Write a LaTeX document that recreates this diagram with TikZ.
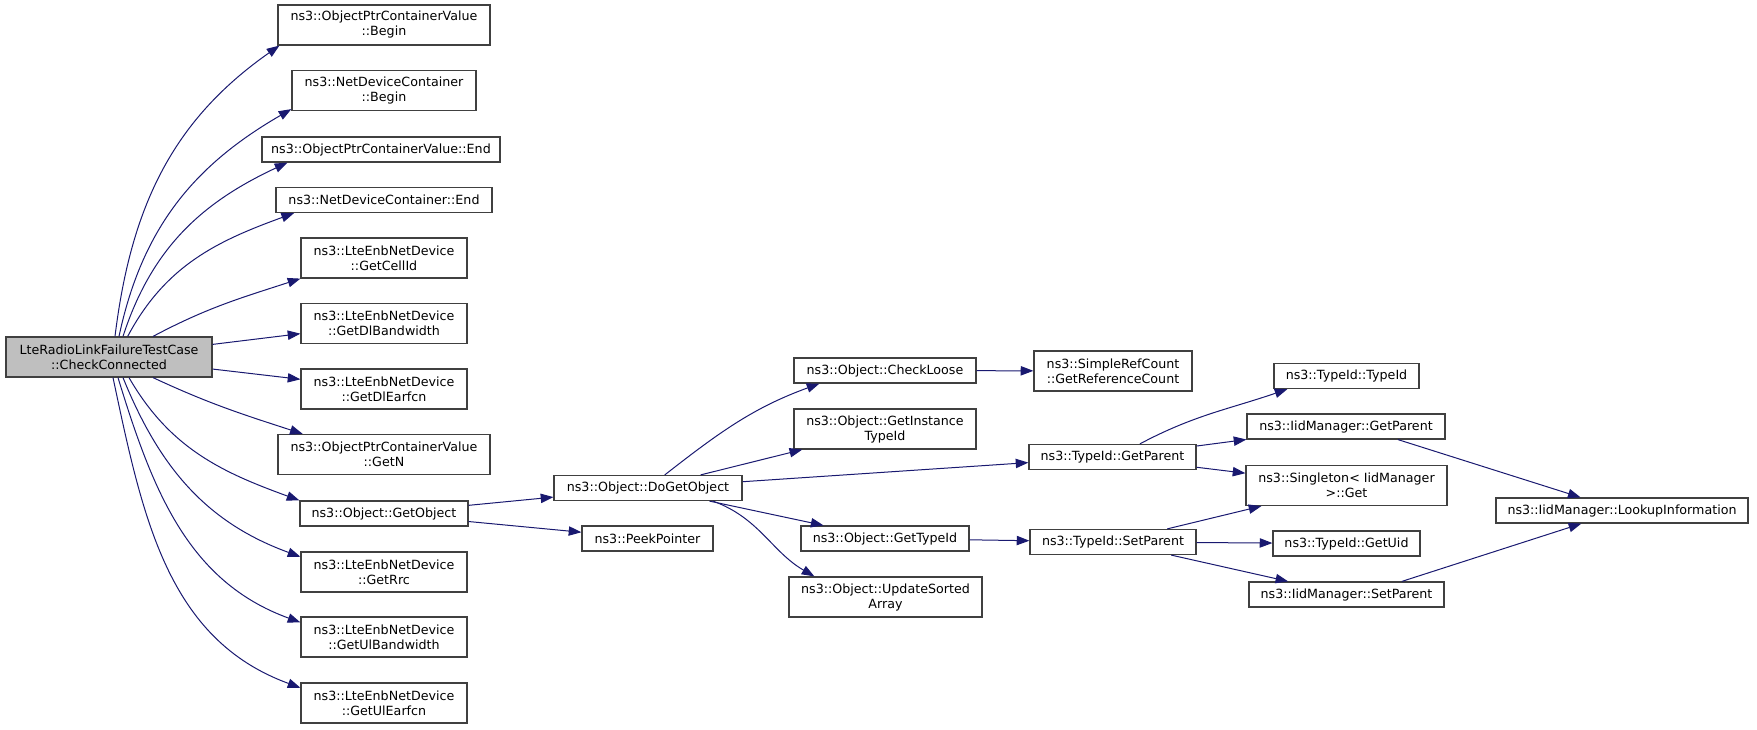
\documentclass[tikz,border=0pt]{standalone}
\usepackage{fontspec}
\setmainfont{DejaVu Sans}
\usetikzlibrary{arrows.meta}
\definecolor{edgeblue}{HTML}{191970}
\definecolor{boxline}{HTML}{404040}
\definecolor{boxfill}{HTML}{BFBFBF}
\begin{document}
\begin{tikzpicture}[x=0.75pt, y=-0.75pt,
            fn/.style = {draw=boxline, line width=0.9pt, align=center, inner sep=0pt,
                         font=\fontsize{9.5}{11.25}\selectfont, minimum height=30pt},
            fnone/.style = {fn, minimum height=18.75pt},
            call/.style = {edgeblue, line width=0.75pt, -{Triangle[length=9.5pt,width=7pt]}}]
            \useasboundingbox (0,0) rectangle (1757,729);

            \node[fn, fill=boxfill, minimum width=154.5pt] (main) at (109,357) {LteRadioLinkFailureTestCase\\::CheckConnected};

            \node[fn,    minimum width=159pt]   (b1)  at (384,25)    {ns3::ObjectPtrContainerValue\\::Begin};
            \node[fn,    minimum width=138pt]   (b2)  at (384,90.5)  {ns3::NetDeviceContainer\\::Begin};
            \node[fnone, minimum width=178.5pt] (b3)  at (381,149.5) {ns3::ObjectPtrContainerValue::End};
            \node[fnone, minimum width=162pt]   (b4)  at (384,200)   {ns3::NetDeviceContainer::End};
            \node[fn,    minimum width=124.5pt] (b5)  at (384,258)   {ns3::LteEnbNetDevice\\::GetCellId};
            \node[fn,    minimum width=124.5pt] (b6)  at (384,323.5) {ns3::LteEnbNetDevice\\::GetDlBandwidth};
            \node[fn,    minimum width=124.5pt] (b7)  at (384,389)   {ns3::LteEnbNetDevice\\::GetDlEarfcn};
            \node[fn,    minimum width=159pt]   (b8)  at (384,454.5) {ns3::ObjectPtrContainerValue\\::GetN};
            \node[fnone, minimum width=126pt]   (b9)  at (384,513.5) {ns3::Object::GetObject};
            \node[fn,    minimum width=124.5pt] (b10) at (384,572)   {ns3::LteEnbNetDevice\\::GetRrc};
            \node[fn,    minimum width=124.5pt] (b11) at (384,637)   {ns3::LteEnbNetDevice\\::GetUlBandwidth};
            \node[fn,    minimum width=124.5pt] (b12) at (384,703)   {ns3::LteEnbNetDevice\\::GetUlEarfcn};

            \node[fnone, minimum width=141pt]    (dgo)  at (648,488)     {ns3::Object::DoGetObject};
            \node[fnone, minimum width=98.25pt]  (peek) at (647.5,538.5) {ns3::PeekPointer};

            \node[fnone, minimum width=136.5pt]  (chk)  at (885,370.5)   {ns3::Object::CheckLoose};
            \node[fn,    minimum width=136.5pt]  (git)  at (885,429)     {ns3::Object::GetInstance\\TypeId};
            \node[fnone, minimum width=126pt]    (gtid) at (885,538.5)   {ns3::Object::GetTypeId};
            \node[fn,    minimum width=144.75pt] (usa)  at (885.5,597)   {ns3::Object::UpdateSorted\\Array};

            \node[fn,    minimum width=118.5pt]  (grc)  at (1113,371)    {ns3::SimpleRefCount\\::GetReferenceCount};
            \node[fnone, minimum width=125.25pt] (tgp)  at (1112.5,457)  {ns3::TypeId::GetParent};
            \node[fnone, minimum width=124.5pt]  (tsp)  at (1113,542)    {ns3::TypeId::SetParent};

            \node[fnone, minimum width=108.75pt] (ttid) at (1346.5,376)  {ns3::TypeId::TypeId};
            \node[fnone, minimum width=148.5pt]  (igp)  at (1346,426.5)  {ns3::IidManager::GetParent};
            \node[fn,    minimum width=150.75pt] (sg)   at (1346.5,485.5) {ns3::Singleton< IidManager\\ >::Get};
            \node[fnone, minimum width=110.25pt] (gui)  at (1346.5,543.5) {ns3::TypeId::GetUid};
            \node[fnone, minimum width=146.25pt] (isp)  at (1346.5,594.5) {ns3::IidManager::SetParent};

            \node[fnone, minimum width=189pt]    (lk)   at (1622,510.5)  {ns3::IidManager::LookupInformation};

            \draw[call] ([xshift=4.5pt]main.north)  to[out=83,in=215] ([xshift=1.5pt]b1.south west);
            \draw[call] ([xshift=7.5pt]main.north)  to[out=78,in=210] ([yshift=1.5pt]b2.south west);
            \draw[call] ([xshift=10.5pt]main.north) to[out=72,in=205] ([xshift=19.5pt]b3.south west);
            \draw[call] ([xshift=14pt]main.north)   to[out=62,in=200] ([xshift=14pt]b4.south west);
            \draw[call] ([xshift=33pt]main.north)   to[out=28,in=198] (b5.south west);
            \draw[call] (main) -- (b6);
            \draw[call] (main) -- (b7);
            \draw[call] ([xshift=33pt]main.south)   to[out=-25,in=162] ([xshift=19pt]b8.north west);
            \draw[call] ([xshift=15pt]main.south)   to[out=-60,in=160] (b9.north west);
            \draw[call] ([xshift=10.5pt]main.south) to[out=-68,in=160] ([yshift=-4pt]b10.north west);
            \draw[call] ([xshift=6.75pt]main.south) to[out=-73,in=160] ([yshift=-4.5pt]b11.north west);
            \draw[call] ([xshift=3pt]main.south)    to[out=-78,in=160] ([yshift=-4pt]b12.north west);

            \draw[call] (b9) -- (dgo);
            \draw[call] (b9) -- (peek);
            \draw[call] (dgo) to[out=38,in=200] ([xshift=19.5pt]chk.south west);
            \draw[call] (dgo) -- (git);
            \draw[call] (dgo) -- (tgp);
            \draw[call] (dgo) -- (gtid);
            \draw[call] ([xshift=48.75pt]dgo.south) to[out=-20,in=150] ([xshift=19.5pt]usa.north west);
            \draw[call] (chk) -- (grc);
            \draw[call] (gtid) -- (tsp);
            \draw[call] ([xshift=20.5pt]tgp.north) to[out=28,in=199] ([xshift=10.5pt]ttid.south west);
            \draw[call] (tgp) -- (igp);
            \draw[call] (tgp) -- (sg);
            \draw[call] (tsp) -- (sg);
            \draw[call] (tsp) -- (gui);
            \draw[call] (tsp) -- (isp);
            \draw[call] ([xshift=39pt]igp.south) -- (lk);
            \draw[call] ([xshift=41.5pt]isp.north) -- (lk);
\end{tikzpicture}
\end{document}
